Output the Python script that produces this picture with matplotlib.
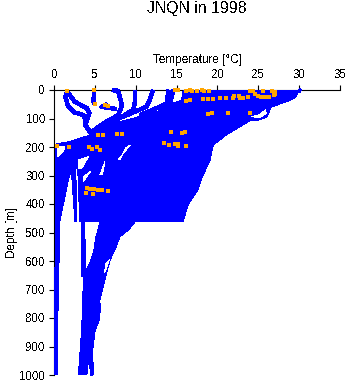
import matplotlib
matplotlib.use("Agg")
import matplotlib.pyplot as plt

BLUE = "#0000ff"
ORANGE = "#ffa500"

# upper mass of profiles, envelope
main_d = [0, 35, 53, 60, 76, 99, 123, 158, 181, 190, 463]
main_left = [15.8, 15.6, 14.0, 13.4, 12.6, 9.7, 6.4, 4.4, 1.8, 0.2, 0.2]
edge_d = [0, 8, 29, 41, 60, 94, 105, 109, 122, 158, 193, 246, 309, 351, 404, 463]
edge_t = [30.2, 29.9, 29.5, 28.5, 26.6, 26.1, 25.2, 23.9, 23.2, 21.1, 19.5, 19.1, 18.1, 17.6, 16.4, 15.8]

# deep bundle below the 463 m cut
deep_d = [463, 491, 515, 561, 596, 655, 737, 842, 1000]
deep_left = [5.6, 5.35, 5.1, 4.85, 4.5, 3.55, 3.5, 3.35, 2.95]
deep_right = [9.9, 9.1, 8.05, 7.45, 6.85, 6.3, 5.6, 4.6, 4.0]

# cold column against the axis
cold_d = [463, 600, 630, 790, 1000]
cold_left = [0.2, 0.2, 0.05, 0.0, 0.0]
cold_right = [0.6, 0.6, 0.5, 0.45, 0.45]

# single profiles (temperature, depth)
profiles = [
    ([1.6, 2.5, 4.0, 4.3, 3.8, 4.5], [6, 41, 64, 82, 123, 152]),
    ([1.6, 1.35, 1.7, 2.4, 3.6, 3.9], [6, 23, 58, 78, 88, 117]),
    ([4.9, 4.8, 4.9], [0, 41, 50]),
    ([7.8, 8.3, 7.85, 6.4, 4.6], [0, 53, 88, 111, 146]),
    ([7.1, 7.8], [0, 3]),
    ([6.5, 5.8, 7.65], [50, 59, 67]),
    ([9.9, 9.9, 9.7, 7.65, 5.6, 4.4], [0, 41, 69, 105, 129, 158]),
    ([12.1, 11.7, 11.3, 8.9, 6.8, 5.6], [0, 35, 59, 88, 111, 151]),
    ([14.0, 13.8, 12.6, 10.5], [0, 46, 63, 88]),
    ([14.6, 14.2, 13.2], [0, 46, 60]),
    ([3.5, 3.55, 3.6, 3.6], [463, 520, 600, 655]),
    ([5.5, 5.3, 4.8, 4.45, 4.65], [749, 807, 842, 924, 1000]),
    ([30.0, 30.2], [0, 5]),
]

# holes left between the profiles
gaps = [
    ([0.37, 1.31, 1.1, 0.61, 0.37], [199, 199, 216, 230, 234]),
    ([2.0, 0.8, 2.4], [298, 463, 463]),
    ([2.95, 4.2, 3.35, 2.95], [245, 234, 275, 275]),
    ([4.4, 3.55, 3.55], [287, 322, 304]),
    ([5.6, 6.2, 5.9], [298, 252, 298]),
    ([7.85, 9.3, 8.7, 8.05], [245, 193, 205, 245]),
    ([24.2, 25.2, 25.9, 26.0, 25.2], [94, 86, 70, 82, 96]),
    ([2.75, 2.9, 3.0], [275, 463, 463]),
    ([6.75, 6.2, 6.25], [596, 640, 610]),
]

# temperature and depth of the orange marks
mark_t = [14.8, 15.2, 16.2, 16.65, 16.9, 17.5, 18.1, 18.3, 19.0, 24.0, 24.4, 25.6, 26.7, 27.1,
          24.6, 25.0, 25.4, 25.9, 26.3, 26.9, 27.1, 23.8, 23.2, 22.8, 22.6, 22.05, 21.9, 21.0,
          20.3, 19.5, 18.8, 18.2, 16.65, 16.2, 18.9, 19.3, 21.35, 24.0, 14.3, 15.6, 16.0, 13.4,
          14.1, 14.8, 15.2, 15.2, 16.2, 1.6, 4.9, 5.0, 6.2, 6.55, 5.3, 6.0, 7.7, 8.3, 0.3, 1.85,
          4.3, 4.6, 5.2, 5.6, 4.05, 4.4, 4.9, 5.4, 5.8, 6.6, 3.85, 4.7]
mark_d = [0, 0, 3, 0, 3, 3, 0, 3, 3, 3, 3, 3, 3, 8,
          15, 20, 23, 23, 23, 17, 15, 23, 27, 27, 21, 21, 29, 29,
          29, 31, 32, 33, 36, 37, 85, 80, 82, 82, 149, 152, 149, 185,
          192, 188, 188, 196, 195, 4, 0, 50, 53, 55, 157, 157, 155, 155, 196, 201,
          199, 207, 201, 212, 345, 347, 348, 351, 351, 354, 363, 366]

x_ticks = [0, 5, 10, 15, 20, 25, 30, 35]
y_ticks = [0, 100, 200, 300, 400, 500, 600, 700, 800, 900, 1000]

plt.rcParams["font.family"] = ["Liberation Sans", "DejaVu Sans"]
plt.rcParams["text.antialiased"] = False

fig = plt.figure(figsize=(3.48, 3.84), dpi=100, facecolor="white")
ax = fig.add_axes([54.3 / 348, 1 - 375 / 384, 285.4 / 348, 285 / 384])


def paint(xs, ys, color):
    ax.fill(xs, ys, color=color, lw=0, antialiased=False, clip_on=False, zorder=3)


paint(main_left + edge_t[::-1], main_d + edge_d[::-1], BLUE)
paint(deep_left + deep_right[::-1], deep_d + deep_d[::-1], BLUE)
paint(cold_left + cold_right[::-1], cold_d + cold_d[::-1], BLUE)
for t, d in profiles:
    ax.plot(t, d, color=BLUE, lw=2.5, antialiased=False, clip_on=False, zorder=3,
            solid_capstyle="butt")
for t, d in gaps:
    paint(t, d, "white")
ax.scatter(mark_t, mark_d, s=5, marker="s", color=ORANGE, lw=0, antialiased=False,
           clip_on=False, zorder=4)

ax.set_xlim(0, 35)
ax.set_ylim(1000, 0)
ax.xaxis.tick_top()
ax.xaxis.set_label_position("top")
ax.set_xticks(x_ticks)
ax.set_yticks(y_ticks)
ax.tick_params(labelsize=8.3, length=3.6, width=0.8, pad=3)
ax.set_xlabel("Temperature [°C]", fontsize=8.5, labelpad=4)
ax.set_ylabel("Depth [m]", fontsize=8.5, labelpad=1)
ax.spines["right"].set_visible(False)
ax.spines["bottom"].set_visible(False)
fig.text(197 / 348, 1 - 8 / 384, "JNQN in 1998", fontsize=11.4, ha="center", va="center")

fig.savefig("out.png", dpi=100, facecolor="white")
